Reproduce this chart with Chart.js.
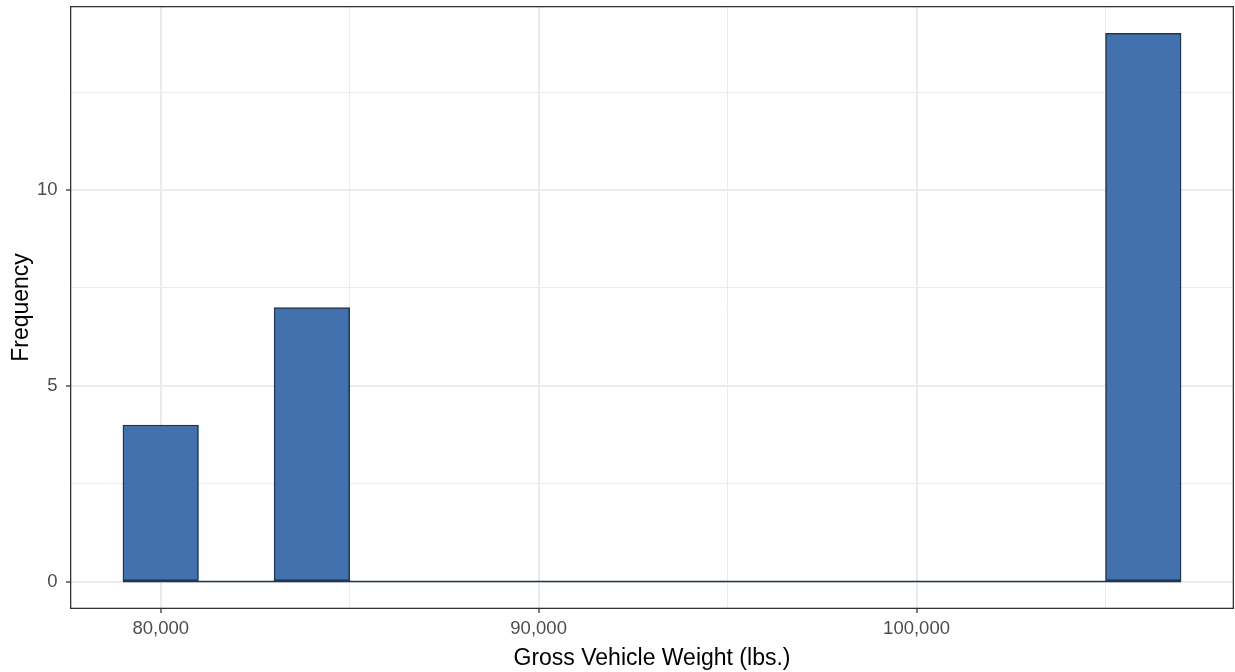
<!DOCTYPE html>
<html>
<head>
<meta charset="utf-8">
<script src="https://cdn.jsdelivr.net/npm/chart.js@4.4.1/dist/chart.umd.min.js"></script>
<style>
  html, body { margin: 0; padding: 0; background: #ffffff; }
  #wrap { width: 1235px; height: 672px; }
</style>
</head>
<body>
<div id="wrap"><canvas id="c" width="1235" height="672"></canvas></div>
<script>
// ---- Data ----
const binCenters = [80000, 82000, 84000, 86000, 88000, 90000, 92000, 94000, 96000, 98000, 100000, 102000, 104000, 106000];
const counts     = [4, 0, 7, 0, 0, 0, 0, 0, 0, 0, 0, 0, 0, 14];
const histRange  = [79000, 107000];           // outer edges of the bins
const xGridTicks  = [80000, 85000, 90000, 95000, 100000, 105000];
const xMajorTicks = [80000, 90000, 100000];
const xTickLabels = ['80,000', '90,000', '100,000'];
const yGridTicks  = [0, 2.5, 5, 7.5, 10, 12.5];
const yMajorTicks = [0, 5, 10];
const yTickLabels = ['0', '5', '10'];
const xTitle = 'Gross Vehicle Weight (lbs.)';
const yTitle = 'Frequency';

const FILL = '#4271AE';
const EDGE = '#1F3552';
const GRID = '#EBEBEB';
const AXIS = '#333333';
const FONT = "'Liberation Sans', Arial, sans-serif";

const barData = binCenters.map((x, i) => ({ x: x, y: counts[i] }));
const baseData = histRange.map(x => ({ x: x, y: 0 }));

const isMajor = (v, list) => list.indexOf(v) !== -1;

const panelBorder = {
  id: 'panelBorder',
  afterDraw(chart) {
    const { ctx, chartArea: a } = chart;
    ctx.save();
    ctx.strokeStyle = AXIS;
    ctx.lineWidth = 1.3;
    ctx.strokeRect(a.left + 0.65, a.top + 0.65, a.right - a.left - 1.3, a.bottom - a.top - 1.3);
    ctx.restore();
  }
};

new Chart(document.getElementById('c'), {
  type: 'bar',
  data: {
    datasets: [
      {
        type: 'bar',
        data: barData,
        backgroundColor: FILL,
        borderColor: EDGE,
        borderWidth: 1.5,
        borderSkipped: false,
        barPercentage: 1,
        categoryPercentage: 1,
        order: 0
      },
      {
        type: 'line',
        data: baseData,
        borderColor: EDGE,
        borderWidth: 1.5,
        pointRadius: 0,
        fill: false,
        order: 1
      }
    ]
  },
  options: {
    responsive: false,
    animation: false,
    layout: { padding: { top: 6, right: 1, left: 0, bottom: 0 } },
    plugins: { legend: { display: false }, tooltip: { enabled: false } },
    scales: {
      x: {
        type: 'linear',
        min: 77600,
        max: 108400,
        offset: false,
        border: { display: false },
        grid: {
          offset: false,
          color: GRID,
          lineWidth: (c) => isMajor(c.tick && c.tick.value, xMajorTicks) ? 2 : 1,
          tickColor: (c) => isMajor(c.tick && c.tick.value, xMajorTicks) ? AXIS : 'rgba(0,0,0,0)',
          tickWidth: 1.3,
          tickLength: 4,
          drawTicks: true
        },
        ticks: {
          autoSkip: false,
          maxRotation: 0,
          padding: 5,
          color: '#4D4D4D',
          font: { family: FONT, size: 18.5 },
          callback: (v) => { const i = xMajorTicks.indexOf(v); return i === -1 ? '' : xTickLabels[i]; }
        },
        afterBuildTicks: (s) => { s.ticks = xGridTicks.map(v => ({ value: v })); },
        title: {
          display: true,
          text: xTitle,
          color: '#000000',
          font: { family: FONT, size: 23 },
          padding: { top: 0, bottom: 0 }
        },
        afterFit: (s) => { s.height = 63; s.paddingLeft = 0; s.paddingRight = 0; }
      },
      y: {
        type: 'linear',
        min: -0.7,
        max: 14.7,
        border: { display: false },
        grid: {
          color: GRID,
          lineWidth: (c) => isMajor(c.tick && c.tick.value, yMajorTicks) ? 2 : 1,
          tickColor: (c) => isMajor(c.tick && c.tick.value, yMajorTicks) ? AXIS : 'rgba(0,0,0,0)',
          tickWidth: 1.3,
          tickLength: 4,
          drawTicks: true
        },
        ticks: {
          autoSkip: false,
          padding: 8.5,
          color: '#4D4D4D',
          font: { family: FONT, size: 18.5 },
          callback: (v) => { const i = yMajorTicks.indexOf(v); return i === -1 ? '' : yTickLabels[i]; }
        },
        afterBuildTicks: (s) => { s.ticks = yGridTicks.map(v => ({ value: v })); },
        title: {
          display: true,
          text: yTitle,
          color: '#000000',
          font: { family: FONT, size: 23 },
          padding: { top: 8, bottom: 0 }
        },
        afterFit: (s) => { s.width = 70; s.paddingTop = 0; s.paddingBottom = 0; }
      }
    }
  },
  plugins: [panelBorder]
});
</script>
</body>
</html>
